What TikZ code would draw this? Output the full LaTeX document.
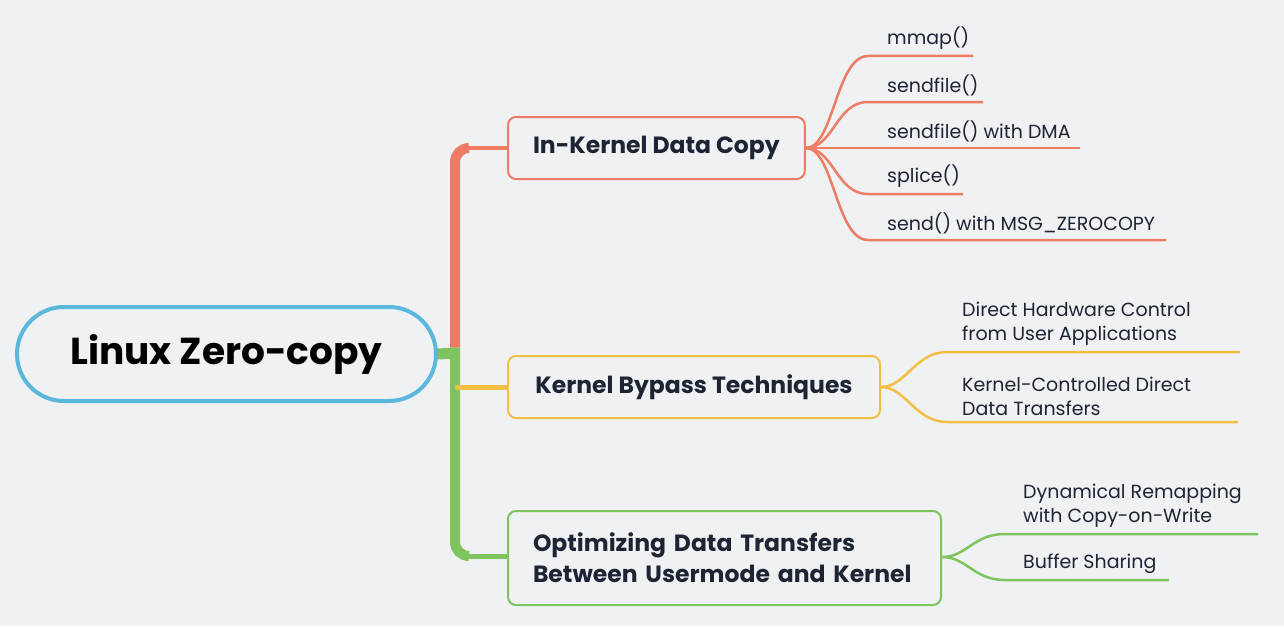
\documentclass[tikz,border=0pt]{standalone}
\usepackage{fontspec}
\setmainfont{Poppins}
\usetikzlibrary{calc}
\definecolor{bgcol}{HTML}{F0F1F3}
\definecolor{kred}{HTML}{EE7B63}
\definecolor{kyel}{HTML}{F2BF45}
\definecolor{kgrn}{HTML}{7EC45D}
\definecolor{kblu}{HTML}{5BB8DC}
\definecolor{ktxt}{HTML}{1D2433}

\begin{document}
\begin{tikzpicture}[x=1pt,y=-1pt,
    root/.style={draw=kblu,line width=4pt,rounded corners=47pt,minimum width=419pt,minimum height=94pt,
      font=\fontsize{37.5}{42}\selectfont\bfseries,text=black},
    topic/.style={rounded corners=8pt,line width=2pt,anchor=west,inner xsep=25pt,inner ysep=8pt,
      minimum height=62pt,text=ktxt,align=left,font=\fontsize{23.5}{31}\selectfont\bfseries},
    leaf/.style={anchor=south west,inner xsep=0pt,inner ysep=6pt,align=left,text=ktxt,
      font=\fontsize{19}{24}\selectfont},
    twig/.style={line width=2.5pt}]
    \fill[bgcol] (0,0) rectangle (1284,626);
    \useasboundingbox (0,0) rectangle (1284,626);

    \node[root] (lz) at (226.5,354) {Linux Zero-copy};
    \coordinate (hub) at (455,353);

    \node[topic,draw=kred] (incopy) at (507,148) {In-Kernel Data Copy};
    \node[topic,draw=kyel,minimum width=372pt] (bypass) at (507,387) {Kernel Bypass Techniques};
    \node[topic,draw=kgrn,minimum height=94pt,text width=383pt] (optim) at (507,558) {Optimizing Data Transfers\\Between Usermode and Kernel};

    \draw[kgrn,line width=11pt] (lz.east) -- (hub);
    \draw[kred,line width=10pt,rounded corners=14pt] ($(hub)+(0,-5.5)$) |- ($(incopy.west)+(-38,0)$);
    \draw[kred,line width=4pt] ($(incopy.west)+(-40,0)$) -- (incopy.west);
    \draw[kgrn,line width=10pt,rounded corners=14pt] ($(hub)+(0,-5.5)$) |- ($(optim.west)+(-38,-2)$);
    \draw[kgrn,line width=5pt] ($(optim.west)+(-40,-2)$) -- ($(optim.west)+(0,-2)$);
    \draw[kyel,line width=5pt] (hub |- bypass.west) -- (bypass.west);

    \node[leaf] (mmap) at (887,56) {mmap()};
    \node[leaf] (sfile) at (887,102) {sendfile()};
    \node[leaf] (sdma) at (887,148) {sendfile() with DMA};
    \node[leaf] (splice) at (887,194) {splice()};
    \node[leaf] (szero) at (887,240) {send() with MSG\_ZEROCOPY};
    \coordinate (mmap-e) at (973,56);
    \coordinate (sfile-e) at (983,102);
    \coordinate (sdma-e) at (1080,148);
    \coordinate (splice-e) at (963,194);
    \coordinate (szero-e) at (1166,240);

    \draw[kred,twig] (incopy.east) .. controls +(28,0) and +(-32,0) .. ($(mmap.south west)+(-19,0)$) -- (mmap-e);
    \draw[kred,twig] (incopy.east) .. controls +(28,0) and +(-32,0) .. ($(sfile.south west)+(-19,0)$) -- (sfile-e);
    \draw[kred,twig] (incopy.east) -- (sdma-e);
    \draw[kred,twig] (incopy.east) .. controls +(28,0) and +(-32,0) .. ($(splice.south west)+(-19,0)$) -- (splice-e);
    \draw[kred,twig] (incopy.east) .. controls +(28,0) and +(-32,0) .. ($(szero.south west)+(-19,0)$) -- (szero-e);

    \node[leaf] (hwctl) at (962,352) {Direct Hardware Control\\from User Applications};
    \node[leaf] (kdirect) at (962,422) {Kernel-Controlled Direct\\Data Transfers};
    \coordinate (hwctl-e) at (1240,352);
    \coordinate (kdirect-e) at (1238,422);

    \draw[kyel,twig] (bypass.east) .. controls +(25,0) and +(-32,0) .. ($(hwctl.south west)+(-15,0)$) -- (hwctl-e);
    \draw[kyel,twig] (bypass.east) .. controls +(25,0) and +(-32,0) .. ($(kdirect.south west)+(-15,0)$) -- (kdirect-e);

    \node[leaf] (remap) at (1023,534) {Dynamical Remapping\\with Copy-on-Write};
    \node[leaf] (bshare) at (1023,580) {Buffer Sharing};
    \coordinate (remap-e) at (1258,534);
    \coordinate (bshare-e) at (1169,580);

    \draw[kgrn,twig] ($(optim.east)+(0,-1)$) .. controls +(25,0) and +(-32,0) .. ($(remap.south west)+(-18,0)$) -- (remap-e);
    \draw[kgrn,twig] ($(optim.east)+(0,-1)$) .. controls +(25,0) and +(-32,0) .. ($(bshare.south west)+(-18,0)$) -- (bshare-e);
\end{tikzpicture}
\end{document}
